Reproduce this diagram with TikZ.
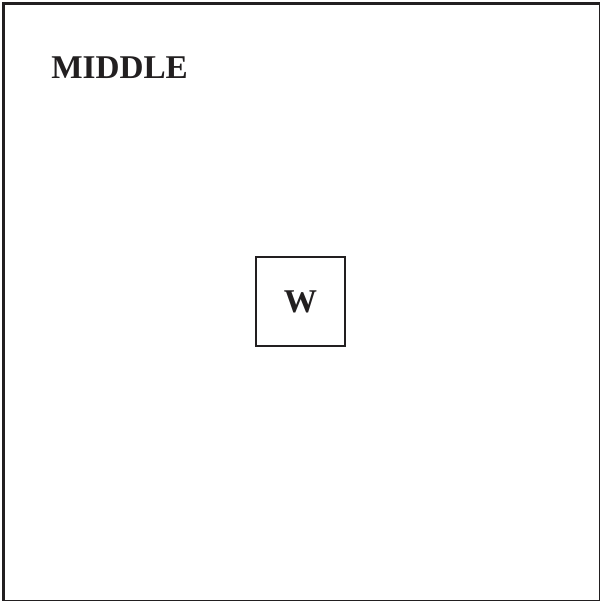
\documentclass[tikz,border=0pt]{standalone}
\usepackage{fontspec}
\setmainfont{Liberation Serif}
\definecolor{ink}{RGB}{34, 31, 32}
\usetikzlibrary{positioning}

\begin{document}
\begin{tikzpicture}[
  x=0.5pt, y=-0.5pt,
  lbl/.style={font=\bfseries\fontsize{16.6}{20}\selectfont, text=ink, inner sep=0pt},
  wbox/.style={draw=ink, line width=1pt, minimum size=44.3pt, inner sep=0pt,
    font=\bfseries\fontsize{16.6}{20}\selectfont, text=ink}
]
  \useasboundingbox (0,0) rectangle (600,601);
  % outer frame
  \draw[ink, line width=1.5pt] (3,3) rectangle (600.9,601.7);

  \node[lbl, anchor=base west] (title) at (51,78) {MIDDLE};
  \node[wbox] (W) at (300.5,301.5) {W};
\end{tikzpicture}
\end{document}
